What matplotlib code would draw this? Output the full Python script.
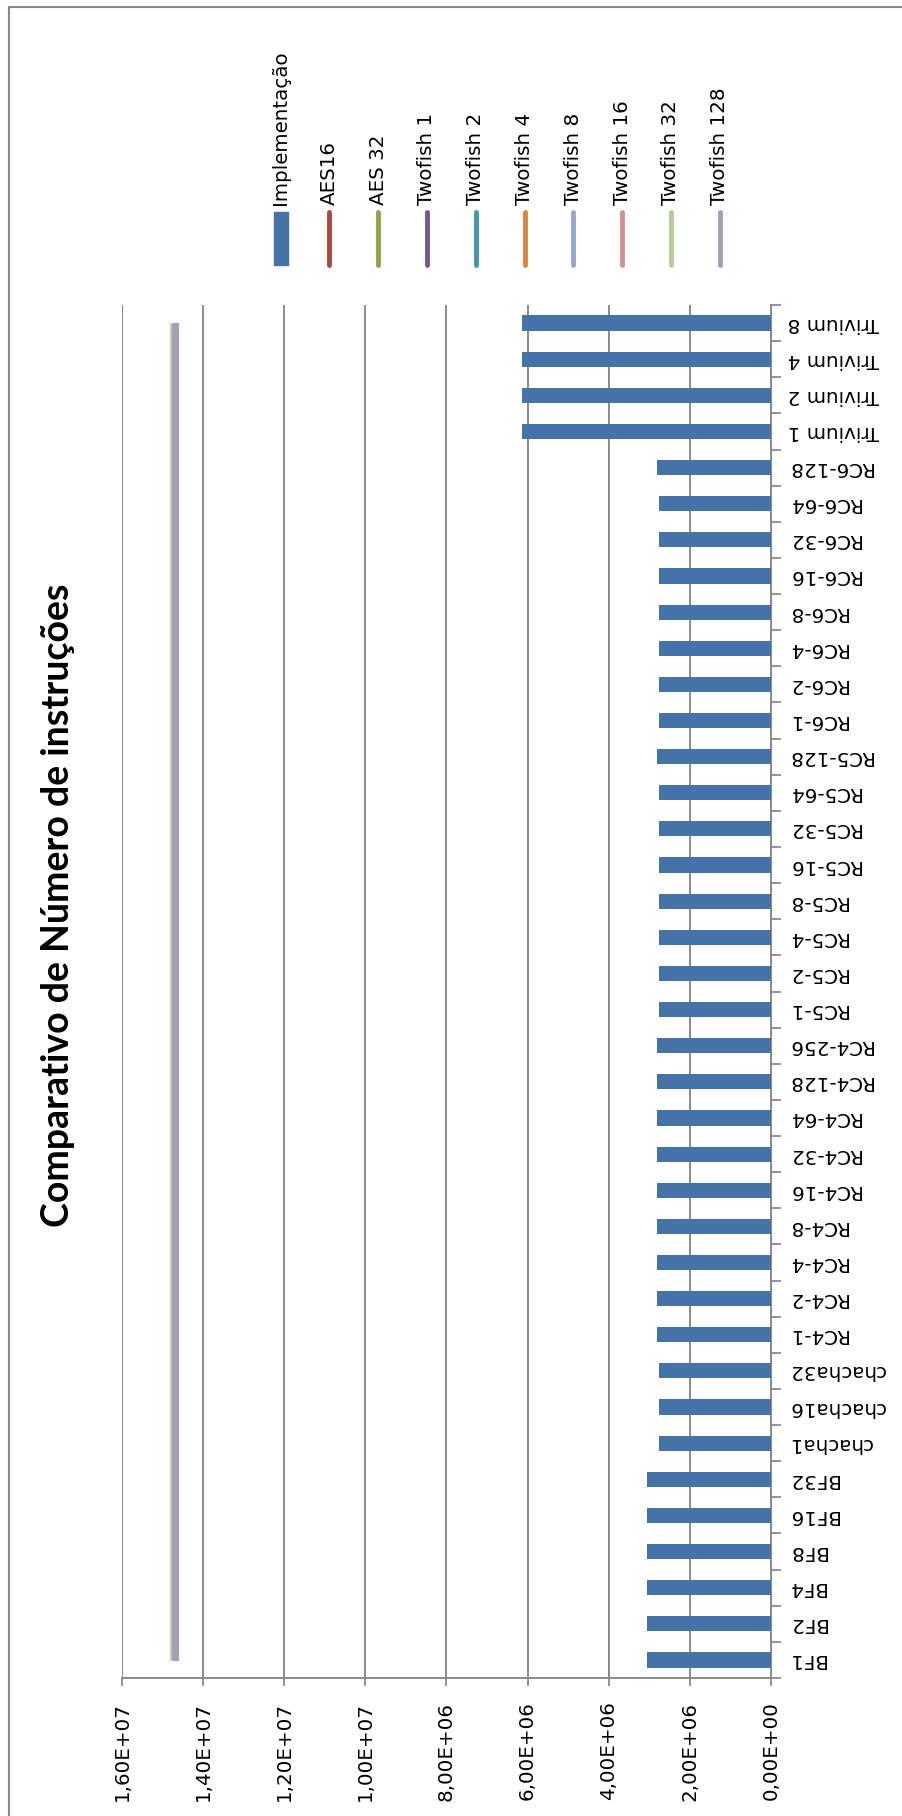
import matplotlib

matplotlib.use("Agg")
import matplotlib.pyplot as plt
from matplotlib.patches import Rectangle
from matplotlib.lines import Line2D
import numpy as np

plt.rcParams["font.family"] = ["DejaVu Sans"]

# --- data -------------------------------------------------------------------
categories = [
    "BF1", "BF2", "BF4", "BF8", "BF16", "BF32",
    "chacha1", "chacha16", "chacha32",
    "RC4-1", "RC4-2", "RC4-4", "RC4-8", "RC4-16", "RC4-32", "RC4-64", "RC4-128", "RC4-256",
    "RC5-1", "RC5-2", "RC5-4", "RC5-8", "RC5-16", "RC5-32", "RC5-64", "RC5-128",
    "RC6-1", "RC6-2", "RC6-4", "RC6-8", "RC6-16", "RC6-32", "RC6-64", "RC6-128",
    "Trivium 1", "Trivium 2", "Trivium 4", "Trivium 8",
]
implementacao = [
    3.05e6, 3.05e6, 3.05e6, 3.05e6, 3.05e6, 3.05e6,
    2.76e6, 2.76e6, 2.76e6,
    2.80e6, 2.80e6, 2.80e6, 2.80e6, 2.80e6, 2.80e6, 2.80e6, 2.80e6, 2.80e6,
    2.76e6, 2.76e6, 2.76e6, 2.76e6, 2.76e6, 2.76e6, 2.76e6, 2.80e6,
    2.76e6, 2.76e6, 2.76e6, 2.76e6, 2.76e6, 2.76e6, 2.76e6, 2.80e6,
    6.15e6, 6.15e6, 6.15e6, 6.15e6,
]
# constant reference series (one level each, drawn across all categories)
line_names = ["AES16", "AES 32", "Twofish 1", "Twofish 2", "Twofish 4",
              "Twofish 8", "Twofish 16", "Twofish 32", "Twofish 128"]
line_levels = [1.470e7, 1.470e7, 1.470e7, 1.470e7, 1.470e7,
               1.470e7, 1.470e7, 1.474e7, 1.470e7]
line_colors = ["#AA4643", "#89A54E", "#71588F", "#4198AF", "#DB843D",
               "#93A9CF", "#D19392", "#B9CD96", "#A99BBD"]
bar_color = "#4572A7"

value_ticks = [0, 2e6, 4e6, 6e6, 8e6, 1e7, 1.2e7, 1.4e7, 1.6e7]
value_labels = ["0,00E+00", "2,00E+06", "4,00E+06", "6,00E+06", "8,00E+06",
                "1,00E+07", "1,20E+07", "1,40E+07", "1,60E+07"]
title = "Comparativo de Número de instruções"

# --- figure (chart is drawn rotated 90 degrees) -------------------------------
W, H = 903, 1816
fig = plt.figure(figsize=(W / 100, H / 100), dpi=100)
grid_c = "#8a8a8a"

x0, x1, y0, y1 = 122, 771, 305, 1678          # plot area in pixels
ax = fig.add_axes([x0 / W, 1 - y1 / H, (x1 - x0) / W, (y1 - y0) / H])

pos = np.arange(len(categories))
ax.barh(pos, implementacao, height=0.42, color=bar_color, zorder=3)
for lvl, c in zip(line_levels, line_colors):
    ax.plot(np.full(len(pos), lvl), pos, color=c, lw=4.8, zorder=4,
            solid_capstyle="butt")

ax.set_xlim(1.6e7, 0)
ax.set_ylim(-0.5, len(categories) - 0.5)

ax.set_xticks(value_ticks)
ax.set_xticklabels(value_labels, rotation=90, fontsize=14.3, va="top", ha="center")
ax.tick_params(axis="x", length=6, width=1.3, color=grid_c, pad=11)
ax.grid(axis="x", color=grid_c, lw=1.4, zorder=1)

ax.yaxis.tick_right()
ax.set_yticks(pos)
ax.set_yticklabels(categories, rotation=180, fontsize=14.3, ha="left", va="center")
ax.set_yticks(np.arange(-0.5, len(categories) + 0.5, 1.0), minor=True)
ax.tick_params(axis="y", which="major", length=0, pad=12)
ax.tick_params(axis="y", which="minor", length=7, width=1.3, color=grid_c,
               right=True, left=False)

for s in ("top", "left"):
    ax.spines[s].set_visible(False)
for s in ("right", "bottom"):
    ax.spines[s].set_color(grid_c)
    ax.spines[s].set_linewidth(1.4)

# title on the left, reading bottom to top
fig.text(58 / W, 1 - 905 / H, title, rotation=90, ha="center", va="center",
         fontsize=27, fontweight="bold", family=["Lato", "DejaVu Sans"])

# legend across the top
leg_x = 280.5
leg_dx = 48.8
names = ["Implementação"] + line_names
colors = [bar_color] + line_colors
for i, (n, c) in enumerate(zip(names, colors)):
    xc = leg_x + i * leg_dx
    if i == 0:
        fig.add_artist(Rectangle(((xc - 7) / W, 1 - 265 / H), 14 / W, 53 / H,
                                 transform=fig.transFigure, color=c))
    else:
        fig.add_artist(Line2D([xc / W, xc / W], [1 - 212 / H, 1 - 265 / H],
                              transform=fig.transFigure, color=c, lw=3.5,
                              solid_capstyle="round"))
    fig.text(xc / W, 1 - 205 / H, n, rotation=90, ha="center", va="bottom",
             fontsize=14.3)

# chart border
fig.add_artist(Rectangle((9 / W, -0.01), (W - 8) / W, 1 - 7 / H + 0.01,
                         transform=fig.transFigure, fill=False,
                         edgecolor=grid_c, lw=1.5))

fig.savefig("out.png", dpi=100)
